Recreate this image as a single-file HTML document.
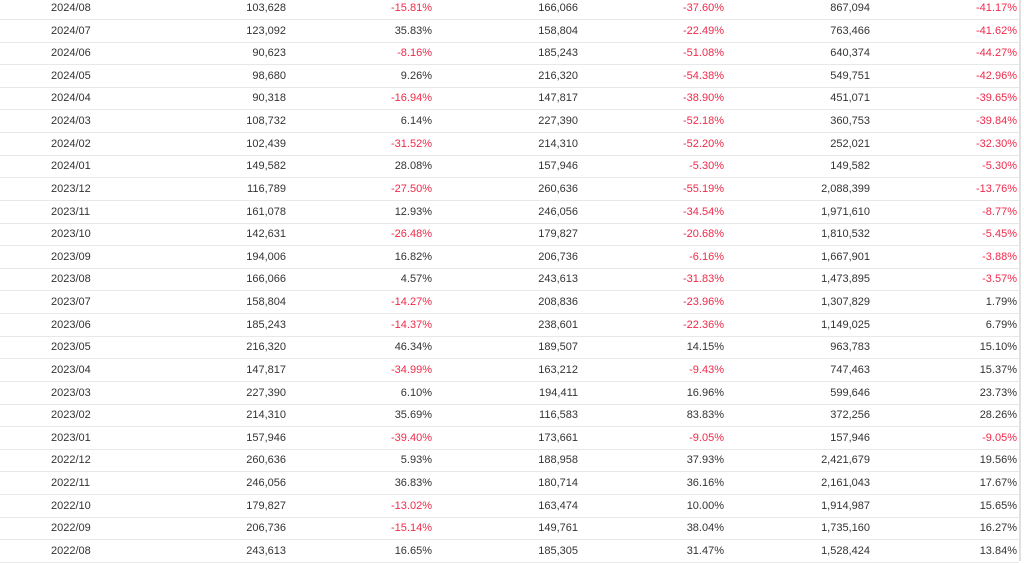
<!DOCTYPE html>
<html><head><meta charset="utf-8"><style>
html,body{margin:0;padding:0;width:1024px;height:561px;overflow:hidden;background:#fff;font-family:"Liberation Sans",Arial,sans-serif;}
#tbl{position:absolute;left:0;top:0;width:1024px;height:561px;}
.row{position:absolute;left:0;width:1019px;height:22px;border-bottom:1px solid #e8e8e8;}
.c{position:absolute;top:0;line-height:22px;font-size:11px;color:#333;white-space:nowrap;}
.r{text-align:right;}
.neg{color:#f0294a;}
#edge{position:absolute;left:1019px;top:0;width:2px;height:561px;background:#e0e0e0;}
</style></head><body>
<div id="tbl"></div>
<div id="edge"></div>
<script>
const months=["2024/08","2024/07","2024/06","2024/05","2024/04","2024/03","2024/02","2024/01","2023/12","2023/11","2023/10","2023/09","2023/08","2023/07","2023/06","2023/05","2023/04","2023/03","2023/02","2023/01","2022/12","2022/11","2022/10","2022/09","2022/08"];
const sales=["103,628","123,092","90,623","98,680","90,318","108,732","102,439","149,582","116,789","161,078","142,631","194,006","166,066","158,804","185,243","216,320","147,817","227,390","214,310","157,946","260,636","246,056","179,827","206,736","243,613"];
const mom=["-15.81%","35.83%","-8.16%","9.26%","-16.94%","6.14%","-31.52%","28.08%","-27.50%","12.93%","-26.48%","16.82%","4.57%","-14.27%","-14.37%","46.34%","-34.99%","6.10%","35.69%","-39.40%","5.93%","36.83%","-13.02%","-15.14%","16.65%"];
const lastYear=["166,066","158,804","185,243","216,320","147,817","227,390","214,310","157,946","260,636","246,056","179,827","206,736","243,613","208,836","238,601","189,507","163,212","194,411","116,583","173,661","188,958","180,714","163,474","149,761","185,305"];
const yoy=["-37.60%","-22.49%","-51.08%","-54.38%","-38.90%","-52.18%","-52.20%","-5.30%","-55.19%","-34.54%","-20.68%","-6.16%","-31.83%","-23.96%","-22.36%","14.15%","-9.43%","16.96%","83.83%","-9.05%","37.93%","36.16%","10.00%","38.04%","31.47%"];
const cumulative=["867,094","763,466","640,374","549,751","451,071","360,753","252,021","149,582","2,088,399","1,971,610","1,810,532","1,667,901","1,473,895","1,307,829","1,149,025","963,783","747,463","599,646","372,256","157,946","2,421,679","2,161,043","1,914,987","1,735,160","1,528,424"];
const cumYoy=["-41.17%","-41.62%","-44.27%","-42.96%","-39.65%","-39.84%","-32.30%","-5.30%","-13.76%","-8.77%","-5.45%","-3.88%","-3.57%","1.79%","6.79%","15.10%","15.37%","23.73%","28.26%","-9.05%","19.56%","17.67%","15.65%","16.27%","13.84%"];
const cols=[["month",months],["sales",sales],["mom",mom],["last-year",lastYear],["yoy",yoy],["cumulative",cumulative],["cum-yoy",cumYoy]];
const rights=[0,286,432,578,724,870,1017];
const tbl=document.getElementById('tbl');
months.forEach((m,i)=>{
  const row=document.createElement('div');
  row.className='row';
  row.style.top=(-3+i*22.62)+'px';
  
  
  cols.forEach(([name,arr],j)=>{
    const c=document.createElement('div');
    const v=arr[i];
    c.className='c'+(j>0?' r':'')+(v.startsWith('-')?' neg':'');
    if(j===0){c.style.left='51px';}else{c.style.right=(1019-rights[j])+'px';}
    c.textContent=v;
    
    
    row.appendChild(c);
  });
  tbl.appendChild(row);
});
</script>
</body></html>
